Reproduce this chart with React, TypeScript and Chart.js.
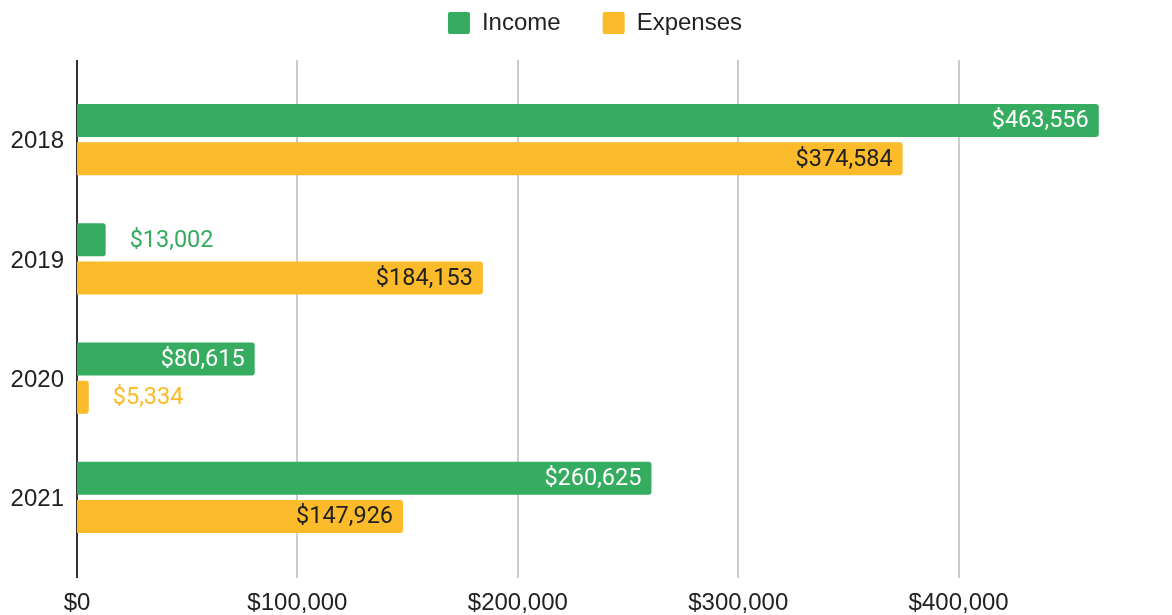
import React, { useEffect, useRef } from "react";
import { Chart, registerables } from "chart.js";

Chart.register(...registerables);

const categories = ["2018", "2019", "2020", "2021"];
const incomeValues = [463556, 13002, 80615, 260625];
const expenseValues = [374584, 184153, 5334, 147926];
const xTickValues = [0, 100000, 200000, 300000, 400000];

const GREEN = "#35AC5F";
const YELLOW = "#FBBB2A";
const TICK_FONT = 'Arial, "Liberation Sans", sans-serif';
const LABEL_FONT = 'Roboto, "Noto Sans", sans-serif';

const fmt = (v: number) => "$" + v.toLocaleString("en-US");

const layoutPlugin = {
  id: "layoutAdjust",
  afterInit(chart: any) {
    const legend = chart.legend;
    if (legend) {
      const orig = legend.fit;
      legend.fit = function () {
        orig.call(this);
        this.height = 80;
      };
    }
  },
  afterLayout(chart: any) {
    if (chart.legend) {
      const pad = chart.legend.options.labels.padding;
      chart.legend.top = 11 - pad;
      chart.legend.left -= 11;
      chart.legend.right -= 11;
    }
  },
};

const gridPlugin = {
  id: "customGrid",
  beforeDatasetsDraw(chart: any) {
    const { ctx, chartArea, scales } = chart;
    const x = scales.x;
    ctx.save();
    ctx.lineWidth = 2;
    ctx.strokeStyle = "#cccccc";
    x.ticks.forEach((t: any) => {
      if (t.value === 0) return;
      const px = Math.round(x.getPixelForValue(t.value));
      ctx.beginPath();
      ctx.moveTo(px, chartArea.top - 20);
      ctx.lineTo(px, chartArea.bottom + 21);
      ctx.stroke();
    });
    const p0 = Math.round(x.getPixelForValue(0));
    ctx.strokeStyle = "#333333";
    ctx.beginPath();
    ctx.moveTo(p0, chartArea.top - 20);
    ctx.lineTo(p0, chartArea.bottom + 21);
    ctx.stroke();
    ctx.restore();
  },
};

const labelPlugin = {
  id: "barLabels",
  afterDatasetsDraw(chart: any) {
    const { ctx } = chart;
    ctx.save();
    ctx.font = `23.5px ${LABEL_FONT}`;
    ctx.textBaseline = "middle";
    chart.data.datasets.forEach((ds: any, di: number) => {
      const meta = chart.getDatasetMeta(di);
      meta.data.forEach((bar: any, i: number) => {
        const text = fmt(ds.data[i]);
        const w = ctx.measureText(text).width;
        const len = bar.x - bar.base;
        if (w + 20 <= len) {
          ctx.textAlign = "right";
          ctx.fillStyle = ds.insideLabelColor;
          ctx.fillText(text, bar.x - 10, bar.y + 1);
        } else {
          ctx.textAlign = "left";
          ctx.fillStyle = ds.backgroundColor;
          ctx.fillText(text, bar.x + 24, bar.y + 1);
        }
      });
    });
    ctx.restore();
  },
};

export default function App() {
  const ref = useRef<HTMLCanvasElement>(null);

  useEffect(() => {
    if (!ref.current) return;
    const chart = new Chart(ref.current, {
      type: "bar",
      data: {
        labels: categories,
        datasets: [
          {
            label: "Income",
            data: incomeValues,
            backgroundColor: GREEN,
            borderRadius: 3,
            borderSkipped: "start",
            categoryPercentage: 0.639,
            barPercentage: 0.868,
            insideLabelColor: "#ffffff",
          } as any,
          {
            label: "Expenses",
            data: expenseValues,
            backgroundColor: YELLOW,
            borderRadius: 3,
            borderSkipped: "start",
            categoryPercentage: 0.639,
            barPercentage: 0.868,
            insideLabelColor: "#222222",
          } as any,
        ],
      },
      options: {
        indexAxis: "y",
        animation: false,
        responsive: false,
        maintainAspectRatio: false,
        layout: { padding: { top: 0, right: 37, left: 0, bottom: 0 } },
        plugins: {
          legend: {
            position: "top",
            fullSize: false,
            labels: {
              boxWidth: 22,
              boxHeight: 22,
              padding: 42,
              useBorderRadius: true,
              borderRadius: 2,
              color: "#222222",
              font: { family: TICK_FONT, size: 24 },
            },
          },
          tooltip: { enabled: false },
        },
        scales: {
          x: {
            min: 0,
            max: 480000,
            grid: { display: false, drawTicks: false },
            border: { display: false },
            afterBuildTicks: (scale: any) => {
              scale.ticks = xTickValues.map((v) => ({ value: v }));
            },
            afterFit: (scale: any) => {
              scale.height = 58;
            },
            ticks: {
              padding: 32,
              color: "#222222",
              font: { family: TICK_FONT, size: 24 },
              maxRotation: 0,
              callback: (v: any) => fmt(Number(v)),
            },
          },
          y: {
            grid: { display: false, drawTicks: false },
            border: { display: false },
            afterFit: (scale: any) => {
              scale.width = 77;
            },
            ticks: {
              padding: 13,
              labelOffset: 2,
              color: "#222222",
              font: { family: TICK_FONT, size: 24 },
            },
          },
        },
      },
      plugins: [layoutPlugin, gridPlugin, labelPlugin],
    });
    return () => chart.destroy();
  }, []);

  return (
    <div style={{ position: "fixed", left: 0, top: 0, width: 1172, height: 615, background: "#fff" }}>
      <canvas ref={ref} width={1172} height={615} style={{ width: 1172, height: 615 }} />
    </div>
  );
}
